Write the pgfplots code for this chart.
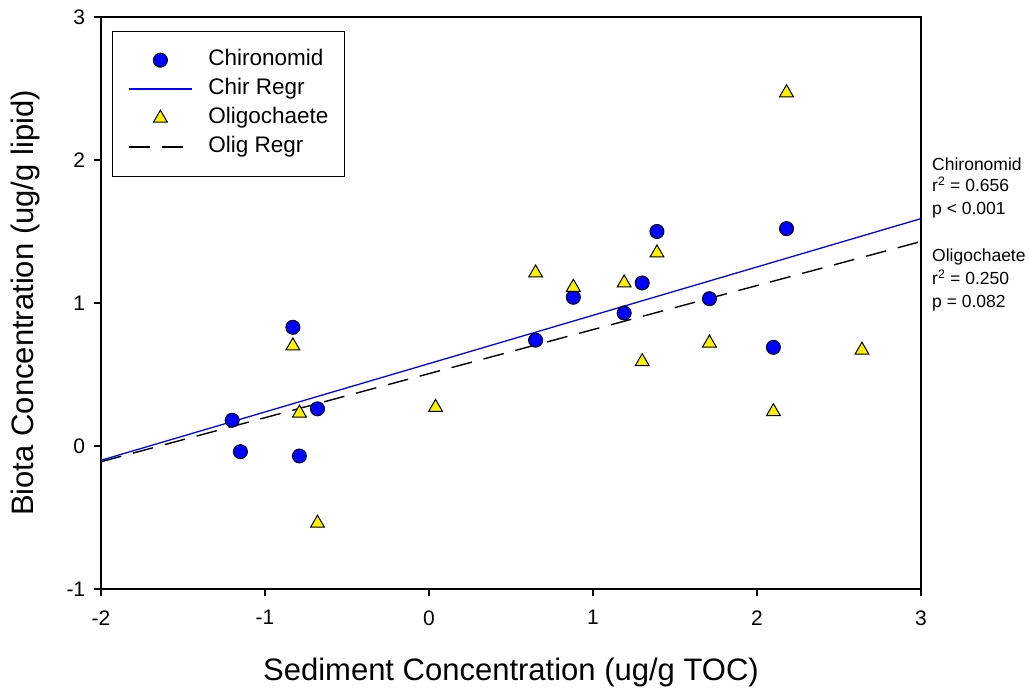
\documentclass[border=0pt]{standalone}
\usepackage{fontspec}
\setmainfont{Liberation Sans}
\usepackage{pgfplots}
\pgfplotsset{compat=1.18}
\begin{document}
\begin{tikzpicture}
\begin{axis}[
  name=ax,
  scale only axis,
  width=820bp, height=572bp,
  xmin=-2, xmax=3, ymin=-1, ymax=3,
  xtick={-2,-1,0,1,2,3}, ytick={-1,0,1,2,3},
  tick align=outside, xtick pos=left, ytick pos=left,
  major tick length=7bp,
  axis line style={line width=1.4bp},
  every tick/.style={black, line width=1.4bp},
  /pgf/number format/assume math mode=true,
  tick label style={font=\fontsize{21bp}{25bp}\selectfont},
  xticklabel style={yshift=-11bp},
  yticklabel style={xshift=-5.3bp},
  xlabel={Sediment Concentration (ug/g TOC)},
  ylabel={Biota Concentration (ug/g lipid)},
  label style={font=\fontsize{31bp}{36bp}\selectfont},
  xlabel style={at={(axis description cs:0.5,-0.1608)}, anchor=base},
  ylabel style={at={(axis description cs:-0.0829,0.5)}, anchor=base},
  clip=false,
  legend cell align=left,
  legend style={at={(axis description cs:0,1)}, anchor=north west,
    xshift=10.7bp, yshift=-13.7bp, draw=black, line width=1bp,
    inner xsep=16bp, inner ysep=19bp, row sep=9bp, column sep=15.7bp,
    font=\fontsize{22.5bp}{27bp}\selectfont,
    nodes={inner sep=0pt, text height=15bp, text depth=5bp}},
]
\addplot[only marks, mark=*, mark size=7bp,
  mark options={fill=blue, draw=black, line width=1bp},
  legend image code/.code={%
    \path[draw=none,fill=none] (0bp,0bp) (63bp,0bp);
    \draw[only marks, mark=*, mark size=7bp, mark options={fill=blue, draw=black, line width=1bp}] plot coordinates {(31.5bp,0bp)};}
  ] coordinates {
  (-1.20,0.18) (-1.15,-0.04) (-0.83,0.83) (-0.79,-0.07) (-0.68,0.26)
  (0.65,0.74) (0.88,1.04) (1.19,0.93) (1.30,1.14) (1.39,1.50)
  (1.71,1.03) (2.10,0.69) (2.18,1.52)};
\addlegendentry{Chironomid}
\addplot[draw=blue, line width=1.3bp, no marks,
  legend image code/.code={\fill[fill=blue, draw=none] (0bp,-0.7bp) rectangle (63bp,0.7bp);}
  ] coordinates {(-2,-0.10) (3,1.59)};
\addlegendentry{Chir Regr}
\addplot[only marks, mark=triangle*, mark size=8bp,
  mark options={fill=yellow, draw=black, line width=1bp},
  legend image code/.code={%
    \path[draw=none,fill=none] (0bp,0bp) (63bp,0bp);
    \draw[only marks, mark=triangle*, mark size=8bp, mark options={fill=yellow, draw=black, line width=1bp}] plot coordinates {(31.5bp,0bp)};}
  ] coordinates {
  (-0.83,0.70) (-0.79,0.23) (-0.68,-0.54) (0.04,0.27) (0.65,1.21)
  (0.88,1.11) (1.19,1.14) (1.30,0.59) (1.39,1.35) (1.71,0.72)
  (2.10,0.24) (2.18,2.47) (2.64,0.67)};
\addlegendentry{Oligochaete}
\addplot[draw=black, line width=1.4bp, dash pattern=on 21bp off 12bp, no marks,
  legend image code/.code={\draw[draw=black, line width=1.4bp, dash pattern=on 21bp off 12bp] (0bp,0bp) -- (63bp,0bp);}
  ] coordinates {(-2,-0.11) (3,1.43)};
\addlegendentry{Olig Regr}
\begin{scope}[every node/.style={anchor=base west, xshift=11bp, inner sep=0pt, font=\fontsize{17.5bp}{21bp}\selectfont}]
\node at (axis cs:3,1.930) {Chironomid};
\node at (axis cs:3,1.778) {r\textsuperscript{2} = 0.656};
\node at (axis cs:3,1.622) {p < 0.001};
\node at (axis cs:3,1.289) {Oligochaete};
\node at (axis cs:3,1.126) {r\textsuperscript{2} = 0.250};
\node at (axis cs:3,0.970) {p = 0.082};
\end{scope}
\end{axis}
\path[use as bounding box] ([shift={(-101bp,-103bp)}]ax.south west) rectangle ([shift={(107bp,17bp)}]ax.north east);
\end{tikzpicture}
\end{document}
